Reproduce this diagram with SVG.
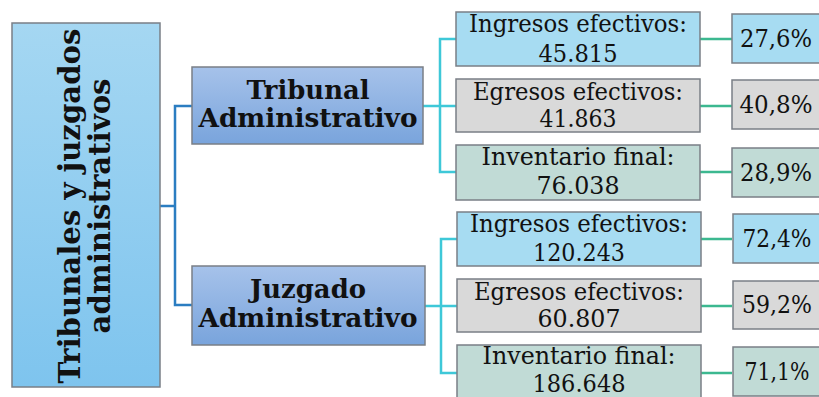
<svg xmlns="http://www.w3.org/2000/svg" width="819" height="397" viewBox="0 0 819 397">
<defs>
<linearGradient id="gRoot" x1="0" y1="0" x2="0" y2="1"><stop offset="0" stop-color="#a5d7f2"/><stop offset="1" stop-color="#7ec4ee"/></linearGradient>
<linearGradient id="gMid" x1="0" y1="0" x2="0" y2="1"><stop offset="0" stop-color="#a6c2ea"/><stop offset="1" stop-color="#79a4dc"/></linearGradient>
<style>
.box{stroke:#7a7f86;stroke-width:1.5}
.ing{fill:#a7dcf2}
.egr{fill:#d9d9d9}
.inv{fill:#c1dbd6}
.t{font-family:"DejaVu Serif","Liberation Serif",serif;font-size:23.5px;fill:#111;text-anchor:middle}
.b{font-family:"DejaVu Serif","Liberation Serif",serif;font-weight:bold;fill:#111;text-anchor:middle}
.c{fill:none;stroke-width:2.5}
</style>
</defs>
<g id="connectors">
<path class="c" stroke="#2b7dc1" d="M160 206 H175 M192 106 H175 V305 H192"/>
<path class="c" stroke="#3ec8d8" d="M423 106 H456 M456 39 H440 V172 H456"/>
<path class="c" stroke="#3ec8d8" d="M425 306 H457 M457 239 H441 V373 H457"/>
<path class="c" stroke="#3cb890" d="M700 39 H732 M700 106 H732 M700 172 H732 M701 239 H732 M701 306 H732 M701 373 H732"/>
</g>
<g id="root">
<rect class="box" x="12" y="23" width="148" height="364" fill="url(#gRoot)"/>
<g transform="translate(86,206) rotate(-90)">
<text class="b" x="0" y="-6" font-size="30" textLength="355" lengthAdjust="spacingAndGlyphs">Tribunales y juzgados</text>
<text class="b" x="0" y="24" font-size="30" textLength="255" lengthAdjust="spacingAndGlyphs">administrativos</text>
</g>
</g>
<g id="tribunal">
<rect class="box" x="192" y="67" width="231" height="77" fill="url(#gMid)"/>
<text class="b" x="308" y="99" font-size="26" textLength="123" lengthAdjust="spacingAndGlyphs">Tribunal</text>
<text class="b" x="308" y="127" font-size="26" textLength="219" lengthAdjust="spacingAndGlyphs">Administrativo</text>
</g>
<g id="juzgado">
<rect class="box" x="192" y="266" width="233" height="79" fill="url(#gMid)"/>
<text class="b" x="308" y="298" font-size="26" textLength="116" lengthAdjust="spacingAndGlyphs">Juzgado</text>
<text class="b" x="308" y="327" font-size="26" textLength="219" lengthAdjust="spacingAndGlyphs">Administrativo</text>
</g>
<g id="t-ingresos">
<rect class="box ing" x="456" y="12" width="244" height="54"/>
<text class="t" x="578" y="32" textLength="218" lengthAdjust="spacingAndGlyphs">Ingresos efectivos:</text>
<text class="t" x="578" y="62" textLength="79" lengthAdjust="spacingAndGlyphs">45.815</text>
</g>
<g id="t-egresos">
<rect class="box egr" x="456" y="79" width="244" height="53"/>
<text class="t" x="578" y="100" textLength="210" lengthAdjust="spacingAndGlyphs">Egresos efectivos:</text>
<text class="t" x="578" y="127" textLength="77" lengthAdjust="spacingAndGlyphs">41.863</text>
</g>
<g id="t-inventario">
<rect class="box inv" x="456" y="145" width="244" height="55"/>
<text class="t" x="578" y="165" textLength="193" lengthAdjust="spacingAndGlyphs">Inventario final:</text>
<text class="t" x="578" y="194" textLength="83" lengthAdjust="spacingAndGlyphs">76.038</text>
</g>
<g id="j-ingresos">
<rect class="box ing" x="457" y="212" width="244" height="54"/>
<text class="t" x="579" y="232" textLength="218" lengthAdjust="spacingAndGlyphs">Ingresos efectivos:</text>
<text class="t" x="579" y="261" textLength="92" lengthAdjust="spacingAndGlyphs">120.243</text>
</g>
<g id="j-egresos">
<rect class="box egr" x="457" y="279" width="244" height="53"/>
<text class="t" x="579" y="300" textLength="210" lengthAdjust="spacingAndGlyphs">Egresos efectivos:</text>
<text class="t" x="579" y="327" textLength="83" lengthAdjust="spacingAndGlyphs">60.807</text>
</g>
<g id="j-inventario">
<rect class="box inv" x="457" y="345" width="244" height="60"/>
<text class="t" x="579" y="364" textLength="193" lengthAdjust="spacingAndGlyphs">Inventario final:</text>
<text class="t" x="579" y="392" textLength="93" lengthAdjust="spacingAndGlyphs">186.648</text>
</g>
<g id="p1"><rect class="box ing" x="732" y="14" width="100" height="49"/><text class="t" x="776" y="47" textLength="72" lengthAdjust="spacingAndGlyphs">27,6%</text></g>
<g id="p2"><rect class="box egr" x="732" y="80" width="100" height="49"/><text class="t" x="776" y="113" textLength="73" lengthAdjust="spacingAndGlyphs">40,8%</text></g>
<g id="p3"><rect class="box inv" x="732" y="148" width="100" height="49"/><text class="t" x="776" y="181" textLength="72" lengthAdjust="spacingAndGlyphs">28,9%</text></g>
<g id="p4"><rect class="box ing" x="733" y="214" width="100" height="49"/><text class="t" x="777" y="247" textLength="69" lengthAdjust="spacingAndGlyphs">72,4%</text></g>
<g id="p5"><rect class="box egr" x="733" y="281" width="100" height="48"/><text class="t" x="777" y="313" textLength="70" lengthAdjust="spacingAndGlyphs">59,2%</text></g>
<g id="p6"><rect class="box inv" x="733" y="347" width="100" height="49"/><text class="t" x="777" y="380" textLength="65" lengthAdjust="spacingAndGlyphs">71,1%</text></g>
</svg>
